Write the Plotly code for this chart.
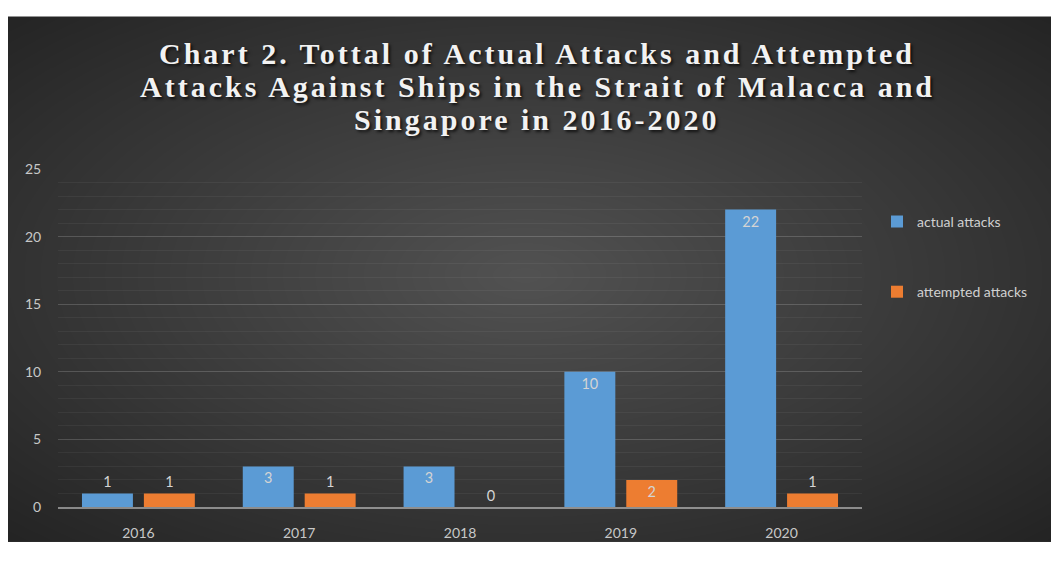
import base64, struct, zlib
import numpy as np
import plotly.graph_objects as go

# ---- data ----
years = ["2016", "2017", "2018", "2019", "2020"]
actual_attacks = [1, 3, 3, 10, 22]
attempted_attacks = [1, 1, 0, 2, 1]
series_names = ["actual attacks", "attempted attacks"]
y_ticks = [0, 5, 10, 15, 20, 25]

title_lines = [
    "Chart 2. Tottal of Actual Attacks and Attempted",
    "Attacks Against Ships in the Strait of Malacca and",
    "Singapore in 2016-2020",
]

# page body has an 8px margin; figure coordinates = reference coordinates - 8
OFF = 8
FIG_W, FIG_H = 1059 - 2 * OFF, 561 - 2 * OFF
ML = 58 - OFF
MR = FIG_W - (862 - OFF)
MT = 169 - OFF
MB = FIG_H - (517 - OFF)
PW, PH = FIG_W - ML - MR, FIG_H - MT - MB
TOP = 12 - OFF  # top of dark panel in figure px

# ---- background gradient image (style only) ----
W, H = FIG_W, FIG_H - TOP
xs = np.linspace(-1, 1.016, W)[None, :]
ys = np.linspace(-1, 1.03, H)[:, None]
d = np.sqrt(xs ** 2 + ys ** 2)
val = np.clip(82 - 32 * d, 30, 90).astype(np.uint8)
rgb = np.repeat(val[:, :, None], 3, axis=2)
raw = b"".join(b"\x00" + rgb[r].tobytes() for r in range(H))

def chunk(tag, data):
    c = struct.pack(">I", len(data)) + tag + data
    return c + struct.pack(">I", zlib.crc32(tag + data) & 0xFFFFFFFF)

png = b"\x89PNG\r\n\x1a\n" + chunk(b"IHDR", struct.pack(">IIBBBBB", W, H, 8, 2, 0, 0, 0)) \
    + chunk(b"IDAT", zlib.compress(raw, 9)) + chunk(b"IEND", b"")
img_uri = "data:image/png;base64," + base64.b64encode(png).decode()

label_font = dict(family="Lato, 'Noto Sans', sans-serif", size=14.5, color="#d4d4d4")
px_per_unit = PH / 25.0

def positions(vals):
    return ["inside" if v * px_per_unit > 22 else "outside" for v in vals]

fig = go.Figure()
for vals, name, grp, color in [
    (actual_attacks, series_names[0], "a", "#5b9bd5"),
    (attempted_attacks, series_names[1], "b", "#ed7d31"),
]:
    fig.add_trace(go.Bar(
        x=years, y=vals, name=name, legendgroup=grp,
        marker=dict(color=color, line=dict(width=0)),
        text=[str(v) for v in vals], textposition=positions(vals),
        insidetextanchor="end", constraintext="none",
        textfont=label_font, insidetextfont=label_font, outsidetextfont=label_font,
        cliponaxis=False,
    ))

def py(y_ref):
    """reference pixel row -> paper y"""
    return (517 - y_ref) / PH

def px(x_ref):
    return ((x_ref - OFF) - ML) / PW

title_font = dict(family="'Liberation Serif', 'Times New Roman', serif", size=30,
                  color="#f2f2f2", weight="bold",
                  shadow="2px 2px 3px rgba(0,0,0,0.7)")
annotations = []
for i, line in enumerate(title_lines):
    annotations.append(dict(
        text='<span style="letter-spacing:3px">' + line + "</span>",
        xref="paper", yref="paper", x=px(537), y=py(50 + 34 * i),
        xanchor="center", yanchor="middle", showarrow=False, font=title_font,
    ))

fig.update_layout(
    width=FIG_W, height=FIG_H,
    margin=dict(l=ML, r=MR, t=MT, b=MB, pad=0),
    paper_bgcolor="white",
    plot_bgcolor="rgba(0,0,0,0)",
    barmode="group", bargap=0.23, bargroupgap=0.177,
    annotations=annotations,
    legend=dict(
        x=px(877), xanchor="left", y=py(207), yanchor="top",
        font=dict(family="Lato, 'Noto Sans', sans-serif", size=14, color="#d0d0d0"),
        bgcolor="rgba(0,0,0,0)", tracegroupgap=49, traceorder="grouped",
    ),
    font=dict(family="Lato, 'Noto Sans', sans-serif", size=14, color="#c8c8c8"),
    images=[dict(
        source=img_uri, xref="paper", yref="paper",
        x=-ML / PW, y=(MT - TOP) / PH + 1,
        sizex=FIG_W / PW, sizey=(FIG_H - TOP) / PH,
        xanchor="left", yanchor="top", sizing="stretch", layer="below",
    )],
    showlegend=True,
)
fig.update_xaxes(
    showgrid=False, showline=True, linecolor="rgba(255,255,255,0.45)", linewidth=1.5,
    ticks="outside", ticklen=12, tickcolor="rgba(0,0,0,0)",
    tickfont=dict(color="#c8c8c8", size=14),
)
fig.update_yaxes(
    range=[0, 25], tickvals=y_ticks, showgrid=True,
    gridcolor="rgba(255,255,255,0.13)", gridwidth=1,
    zeroline=False, showline=False,
    ticks="outside", ticklen=13, tickcolor="rgba(0,0,0,0)",
    tickfont=dict(color="#c8c8c8", size=14),
    minor=dict(dtick=1, showgrid=True, gridcolor="rgba(255,255,255,0.05)", gridwidth=1),
)

fig.write_html("out.html")
